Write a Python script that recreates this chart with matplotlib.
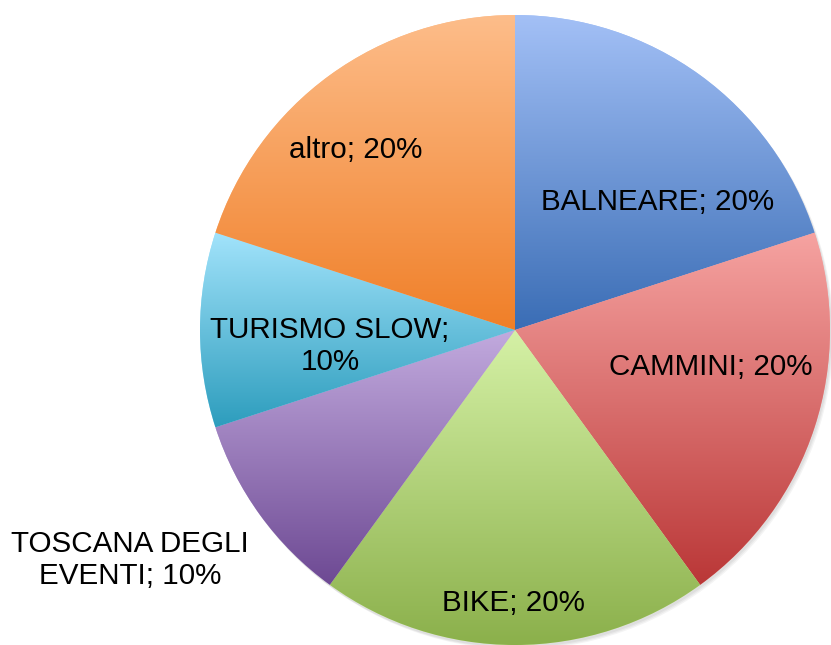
import numpy as np
import matplotlib
matplotlib.use("Agg")
import matplotlib.pyplot as plt
from matplotlib.colors import LinearSegmentedColormap

plt.rcParams['font.family'] = ['Liberation Sans', 'DejaVu Sans']

categories = ["BALNEARE", "CAMMINI", "BIKE", "TOSCANA DEGLI EVENTI", "TURISMO SLOW", "altro"]
label_names = ["BALNEARE; 20%", "CAMMINI; 20%", "BIKE; 20%", "TOSCANA DEGLI\nEVENTI; 10%",
               "TURISMO SLOW;\n10%", "altro; 20%"]
values = [20, 20, 20, 10, 10, 20]
top_colors = ["#a3c0f6", "#f6a3a1", "#d5f1a6", "#c2aade", "#a2e3fb", "#fdbd8a"]
bottom_colors = ["#3a6db5", "#ba3737", "#8bb04b", "#6d4993", "#2d9dbd", "#f07f28"]
label_pos = [(658, 202), (711, 367), (513, 603), (130, 560), (330, 346), (356, 150)]

W, H = 831, 645
fig = plt.figure(figsize=(W / 100, H / 100), dpi=100)
ax = fig.add_axes([0, 0, 1, 1])

cx, cy, r = 515, H - 330, 315

# soft shadow
for i in range(3):
    sh = plt.Circle((cx + 1.5 + i, cy - 2.5 - i), r, color='black', alpha=0.045, lw=0, zorder=0)
    ax.add_patch(sh)

wedges, _ = ax.pie(values, startangle=90, counterclock=False, center=(cx, cy), radius=r,
                   colors=top_colors, wedgeprops=dict(linewidth=0))

for w, c1, c2 in zip(wedges, top_colors, bottom_colors):
    verts = w.get_patch_transform().transform(w.get_path().vertices)
    x0, x1 = verts[:, 0].min(), verts[:, 0].max()
    y0, y1 = verts[:, 1].min(), verts[:, 1].max()
    cmap = LinearSegmentedColormap.from_list("g", [c1, c2])
    grad = np.linspace(0, 1, 256).reshape(-1, 1)
    im = ax.imshow(grad, cmap=cmap, extent=(x0, x1, y0, y1), origin='upper',
                   aspect='auto', zorder=2, interpolation='bilinear')
    im.set_clip_path(w)

ax.set_xlim(0, W)
ax.set_ylim(0, H)
ax.set_aspect('equal')
ax.axis('off')

for txt, (x, y) in zip(label_names, label_pos):
    ax.text(x, H - y, txt, ha='center', va='center', fontsize=21.3, color='black',
            linespacing=1.15, zorder=5)

fig.savefig("out.png", dpi=100)
